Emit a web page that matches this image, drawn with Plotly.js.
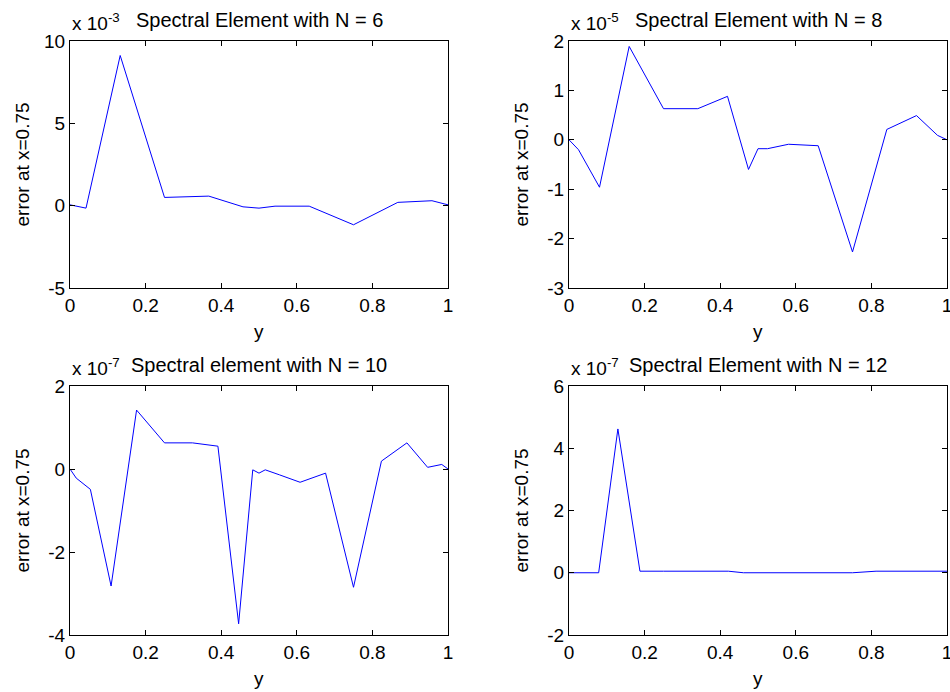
<!DOCTYPE html>
<html>
<head>
<meta charset="utf-8">
<script src="https://cdn.plot.ly/plotly-3.0.1.min.js"></script>
<style>html,body{margin:0;padding:0;background:#fff;}#chart{width:950px;height:692px;}</style>
</head>
<body>
<div id="chart"></div>
<script>
// Data (y values in units of the axis multiplier shown above each plot)
const xN6 = [0, 0.0424, 0.1328, 0.25, 0.3672, 0.4576, 0.5, 0.5424, 0.6328, 0.75, 0.8672, 0.9576, 1];
const yN6 = [0.05, -0.15, 9.12, 0.5, 0.58, -0.07, -0.15, -0.03, -0.03, -1.16, 0.2, 0.3, 0.05];

const xN8 = [0, 0.0251, 0.0807, 0.1592, 0.25, 0.3408, 0.4193, 0.4749, 0.5, 0.5251, 0.5807, 0.6592, 0.75, 0.8408, 0.9193, 0.9749, 1];
const yN8 = [0, -0.2, -0.96, 1.89, 0.63, 0.63, 0.88, -0.6, -0.18, -0.18, -0.09, -0.12, -2.27, 0.21, 0.49, 0.09, 0];

const xN10 = [0, 0.0165, 0.0539, 0.1087, 0.1761, 0.25, 0.3239, 0.3913, 0.4461, 0.4835, 0.5, 0.5165, 0.5539, 0.6087, 0.6761, 0.75, 0.8239, 0.8913, 0.9461, 0.9835, 1];
const yN10 = [0, -0.22, -0.49, -2.82, 1.42, 0.63, 0.63, 0.55, -3.73, -0.02, -0.1, -0.02, -0.14, -0.32, -0.1, -2.85, 0.19, 0.63, 0.04, 0.11, 0];

const xN12 = [0, 0.0117, 0.0384, 0.0785, 0.1293, 0.1877, 0.25, 0.3123, 0.3707, 0.4215, 0.4616, 0.4883, 0.5, 0.5117, 0.5384, 0.5785, 0.6293, 0.6877, 0.75, 0.8123, 0.8707, 0.9215, 0.9616, 0.9883, 1];
const yN12 = [0, 0, 0, 0, 4.62, 0.05, 0.05, 0.05, 0.05, 0.05, 0, 0, 0, 0, 0, 0, 0, 0, 0, 0.05, 0.05, 0.05, 0.05, 0.05, 0.05];

const titles = ["Spectral Element with N = 6", "Spectral Element with N = 8", "Spectral element with N = 10", "Spectral Element with N = 12"];
const exponents = ["-3", "-5", "-7", "-7"];
const yTicks = [[-5, 0, 5, 10], [-3, -2, -1, 0, 1, 2], [-4, -2, 0, 2], [-2, 0, 2, 4, 6]];
const yTickText = [["-5", "0", "5", "10"], ["-3", "-2", "-1", "0", "1", "2"], ["-4", "-2", "0", "2"], ["-2", "0", "2", "4", "6"]];
const yRanges = [[-5, 10], [-3, 2], [-4, 2], [-2, 6]];
const xTicks = [0, 0.2, 0.4, 0.6, 0.8, 1];
const xTickText = ["0", "0.2", "0.4", "0.6", "0.8", "1"];

const W = 950, H = 692;
const FONT = "Liberation Sans, Arial, Helvetica, sans-serif";
const FS = 19;
const FT = 20;

// pixel boxes of the four axes [left, right, top, bottom]
const boxes = [[70, 448, 41, 288], [569, 947, 41, 288], [70, 448, 386, 635], [569, 947, 386, 635]];

const xs = [xN6, xN8, xN10, xN12];
const ys = [yN6, yN8, yN10, yN12];

const data = [];
const layout = {
  width: W, height: H,
  margin: {l: 0, r: 0, t: 0, b: 0},
  paper_bgcolor: "#fff", plot_bgcolor: "#fff",
  showlegend: false,
  font: {family: FONT, size: FS, color: "#000"},
  annotations: []
};

for (let i = 0; i < 4; i++) {
  const sfx = i === 0 ? "" : String(i + 1);
  data.push({
    x: xs[i], y: ys[i], type: "scatter", mode: "lines",
    line: {color: "#0000ff", width: 1},
    xaxis: "x" + sfx, yaxis: "y" + sfx, hoverinfo: "skip"
  });
  const b = boxes[i];
  const common = {
    showline: true, linecolor: "#000", linewidth: 1, mirror: "allticks",
    ticks: "inside", ticklen: 5, tickwidth: 1, tickcolor: "#000",
    showgrid: false, zeroline: false, fixedrange: true,
    ticklabeloverflow: "allow",
    tickfont: {family: FONT, size: FS, color: "#000"}
  };
  layout["xaxis" + sfx] = Object.assign({}, common, {
    domain: [b[0] / W, b[1] / W], range: [0, 1],
    tickmode: "array", tickvals: xTicks, ticktext: xTickText,
    anchor: "y" + sfx
  });
  layout["yaxis" + sfx] = Object.assign({}, common, {
    domain: [1 - b[3] / H, 1 - b[2] / H], range: yRanges[i],
    tickmode: "array", tickvals: yTicks[i], ticktext: yTickText[i],
    anchor: "x" + sfx
  });
  const ann = layout.annotations;
  // exponent multiplier
  ann.push({
    xref: "paper", yref: "paper", x: b[0] / W, y: 1 - (b[2] - 19) / H,
    xanchor: "left", yanchor: "middle", showarrow: false,
    text: "x 10<sup>" + exponents[i] + "</sup>",
    font: {family: FONT, size: FS, color: "#000"}
  });
  // title
  ann.push({
    xref: "paper", yref: "paper", x: (b[0] + b[1]) / 2 / W, y: 1 - (b[2] - 21) / H,
    xanchor: "center", yanchor: "middle", showarrow: false,
    text: titles[i], font: {family: FONT, size: FT, color: "#000"}
  });
  // x axis title
  ann.push({
    xref: "paper", yref: "paper", x: (b[0] + b[1]) / 2 / W, y: 1 - (b[3] + 43) / H,
    xanchor: "center", yanchor: "middle", showarrow: false,
    text: "y", font: {family: FONT, size: FS, color: "#000"}
  });
  // y axis title
  ann.push({
    xref: "paper", yref: "paper", x: (b[0] - 48) / W, y: 1 - (b[2] + b[3]) / 2 / H,
    xanchor: "center", yanchor: "middle", showarrow: false, textangle: -90,
    text: "error at x=0.75", font: {family: FONT, size: FS, color: "#000"}
  });
}

Plotly.newPlot("chart", data, layout, {staticPlot: true, displayModeBar: false});
</script>
</body>
</html>
